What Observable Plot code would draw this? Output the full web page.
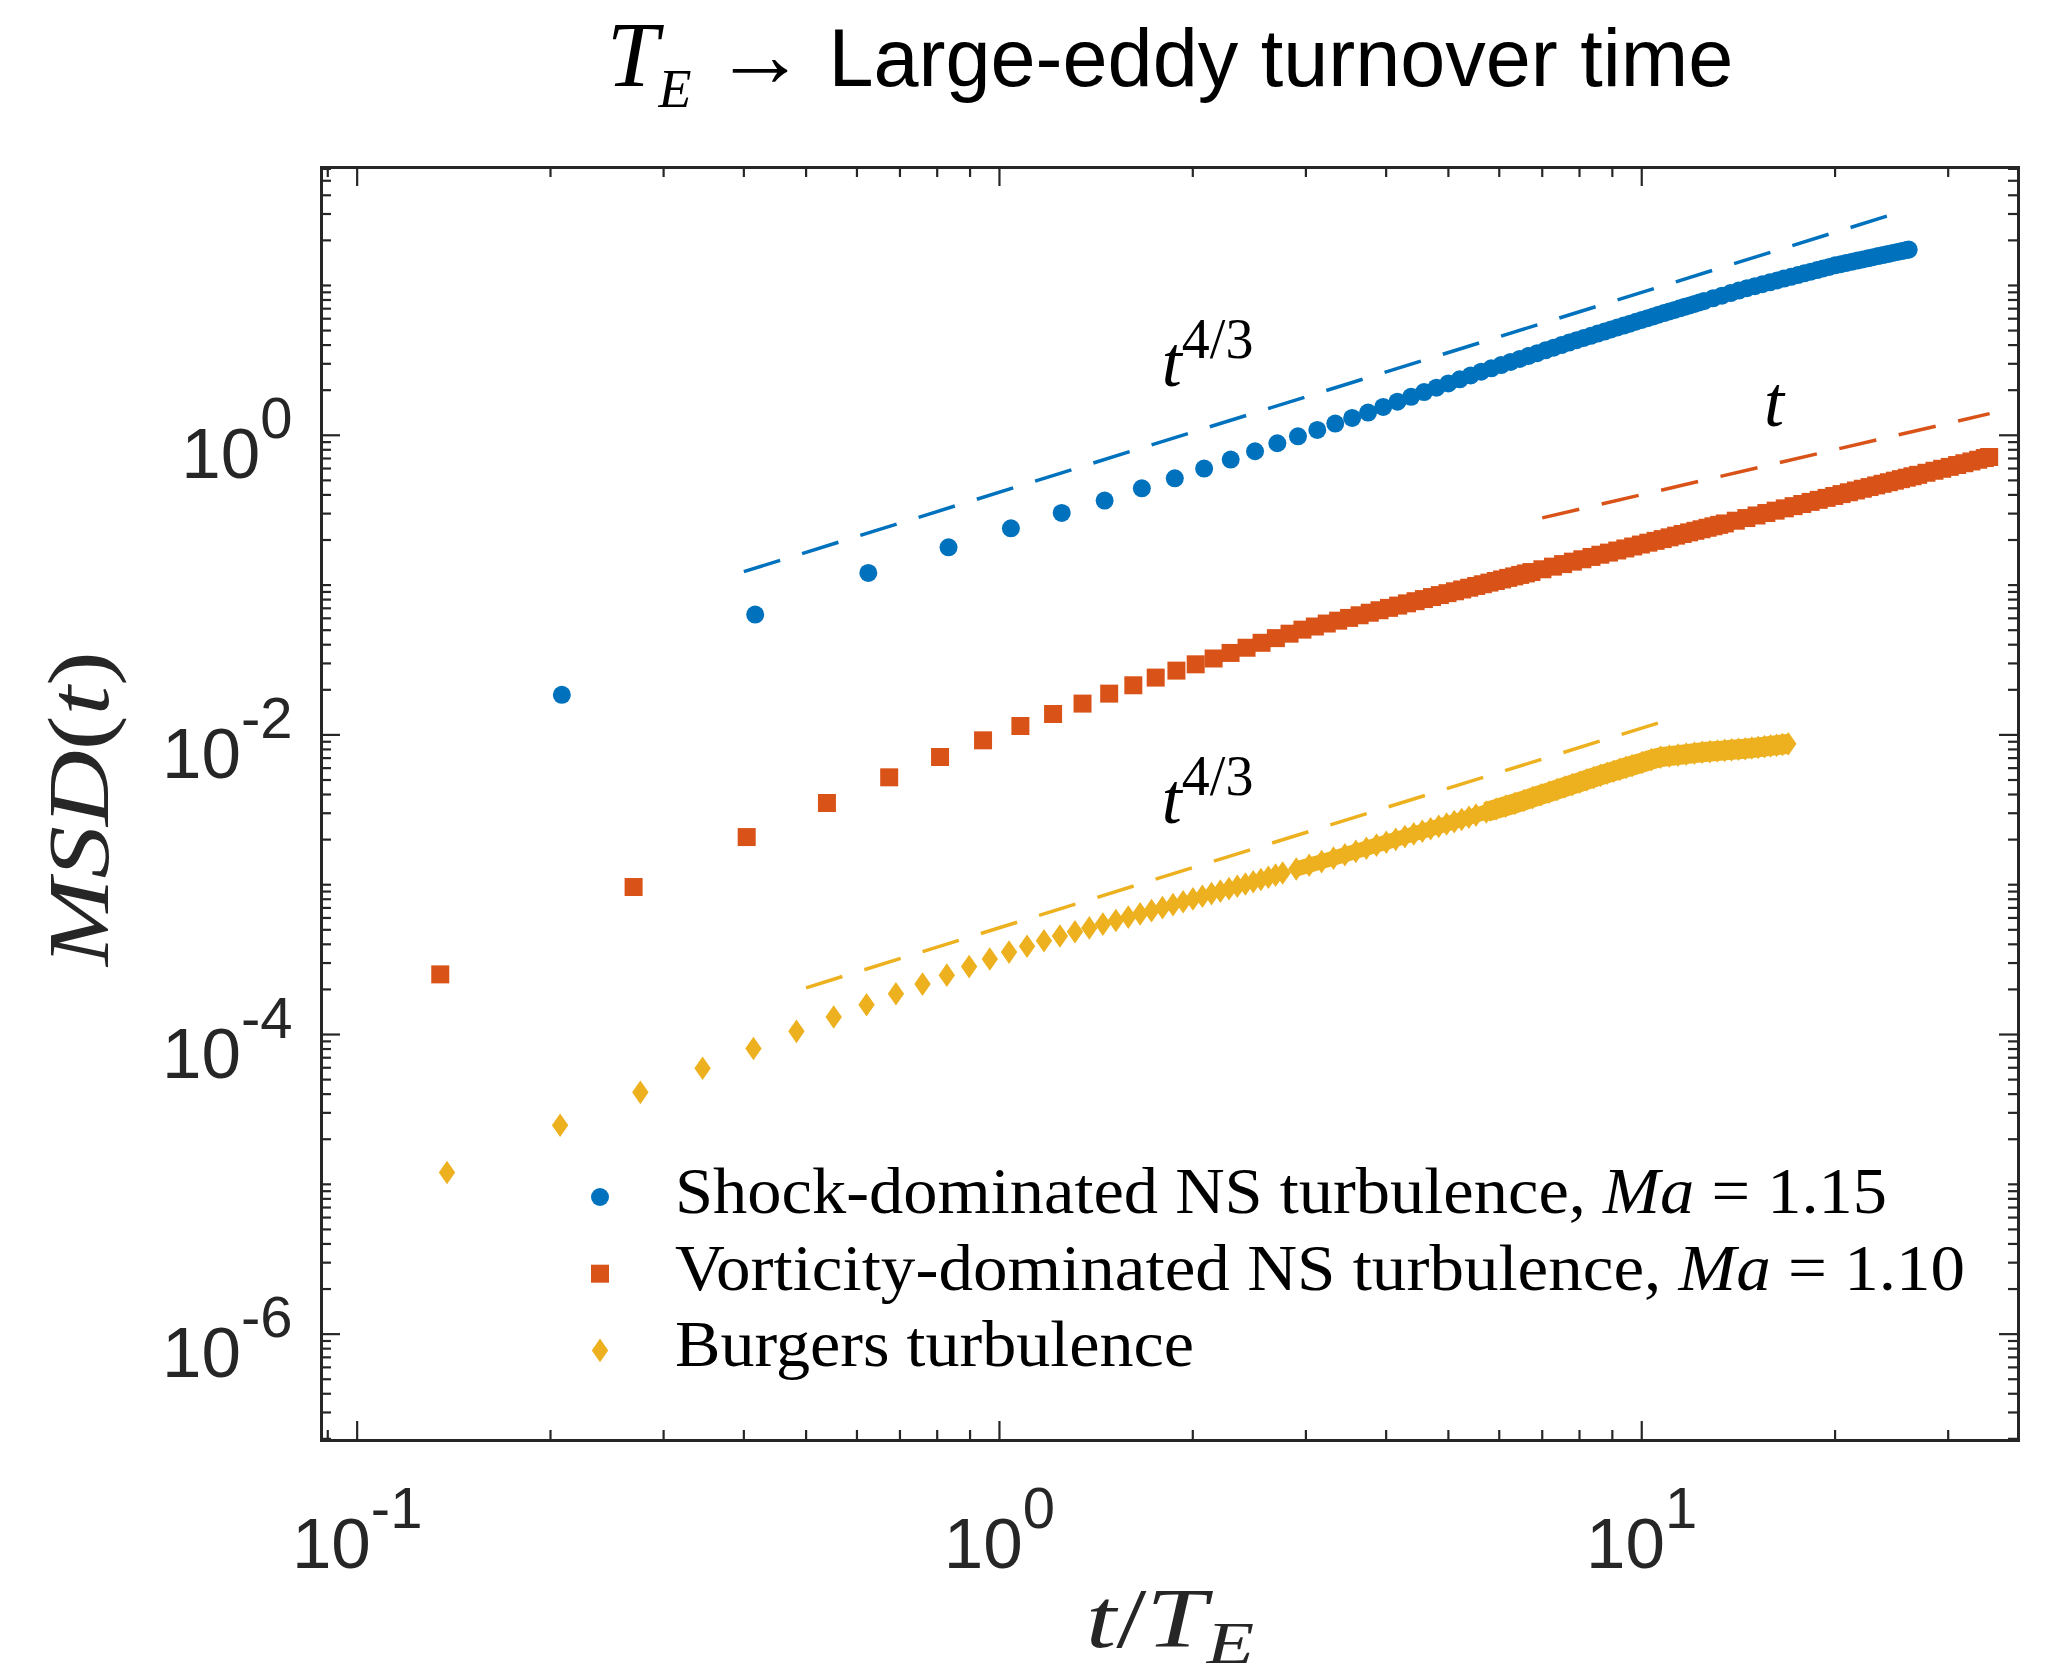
<!DOCTYPE html>
<html>
<head>
<meta charset="utf-8">
<script src="https://cdn.jsdelivr.net/npm/d3@7"></script>
<script src="https://cdn.jsdelivr.net/npm/@observablehq/plot@0.6"></script>
<style>
  html, body { margin: 0; padding: 0; background: #fff; }
  svg text { white-space: pre; }
</style>
</head>
<body>
<div id="chart"></div>
<script>
// ---------------------------------------------------------------------------
// Mean squared displacement vs. normalised time, three turbulence cases
// ---------------------------------------------------------------------------

// Shock-dominated NS turbulence, Ma = 1.15
const shockT = [0.2083, 0.4166, 0.6249, 0.8332, 1.042, 1.250, 1.458, 1.666, 1.875, 2.083,
  2.291, 2.500, 2.708, 2.916, 3.125, 3.333, 3.541, 3.749, 3.958,
  4.166, 4.374, 4.583, 4.791, 4.999, 5.208, 5.416, 5.624, 5.832, 6.041,
  6.249, 6.457, 6.666, 6.874, 7.082, 7.291, 7.499, 7.707, 7.915, 8.124,
  8.332, 8.540, 8.749, 8.957, 9.165, 9.374, 9.582, 9.790, 9.998, 10.21,
  10.42, 10.62, 10.83, 11.04, 11.25, 11.46, 11.66, 11.87, 12.08, 12.29, 12.50,
  12.91, 13.33, 13.75, 14.16, 14.58, 15.00, 15.41, 15.83, 16.25, 16.66,
  17.08, 17.50, 17.91, 18.33, 18.75, 19.16, 19.58, 20.00, 20.41, 20.83,
  21.25, 21.66, 22.08, 22.50, 22.91, 23.33, 23.75, 24.16, 24.58, 25.00,
  25.41, 25.83, 26.04];
const shockMSD = [0.0185, 0.0636, 0.1205, 0.1788, 0.2394, 0.3029, 0.3664, 0.4428, 0.5164, 0.5996,
  0.6885, 0.7823, 0.8846, 0.985, 1.085, 1.197, 1.305, 1.417, 1.545,
  1.677, 1.807, 1.942, 2.078, 2.219, 2.363, 2.509, 2.658, 2.798, 2.940,
  3.086, 3.234, 3.383, 3.535, 3.688, 3.845, 4.002, 4.159, 4.310, 4.462,
  4.615, 4.771, 4.927, 5.084, 5.243, 5.402, 5.562, 5.726, 5.888, 6.053,
  6.217, 6.378, 6.542, 6.706, 6.868, 7.033, 7.198, 7.364, 7.529, 7.699, 7.867,
  8.204, 8.550, 8.896, 9.240, 9.585, 9.893, 10.19, 10.50, 10.81, 11.12,
  11.43, 11.74, 12.05, 12.37, 12.68, 12.99, 13.30, 13.62, 13.88, 14.14,
  14.41, 14.66, 14.93, 15.19, 15.44, 15.70, 15.96, 16.21, 16.47, 16.73,
  16.98, 17.24, 17.37];

// Vorticity-dominated NS turbulence, Ma = 1.10
const vortT = [0.1347, 0.2694, 0.4041, 0.5388, 0.6735, 0.8082, 0.9429, 1.078, 1.212, 1.347,
  1.482, 1.616, 1.751, 1.886, 2.021,
  2.155, 2.290, 2.425, 2.559, 2.694, 2.829, 2.963, 3.098, 3.233, 3.368,
  3.502, 3.637, 3.772, 3.906, 4.041, 4.176, 4.310, 4.445, 4.580, 4.715,
  4.849, 4.984, 5.119, 5.253, 5.388, 5.523, 5.657, 5.792, 5.927, 6.062,
  6.196, 6.331, 6.466, 6.600, 6.735,
  7.004, 7.274, 7.543, 7.813, 8.082, 8.351, 8.621, 8.890, 9.160, 9.429,
  9.698, 9.968, 10.24, 10.51, 10.78, 11.05, 11.31, 11.58, 11.85, 12.12,
  12.39, 12.66, 12.93, 13.20, 13.47,
  14.01, 14.55, 15.09, 15.63, 16.16, 16.70, 17.24, 17.78, 18.32, 18.86,
  19.40, 19.94, 20.47, 21.01, 21.55, 22.09, 22.63, 23.17, 23.71, 24.25,
  24.78, 25.32, 25.86, 26.40, 26.94,
  27.75, 28.56, 29.36, 30.17, 30.98, 31.79, 32.60, 33.41, 34.21, 34.75];
const vortMSD = [2.52e-4, 9.65e-4, 2.08e-3, 3.51e-3, 5.21e-3, 7.12e-3, 9.20e-3, 0.01147, 0.01379, 0.01618,
  0.01886, 0.02144, 0.02413, 0.02686, 0.02959,
  0.03236, 0.03525, 0.03818, 0.04119, 0.04426, 0.04739, 0.05042, 0.05290, 0.05539, 0.05788,
  0.06038, 0.06289, 0.0654, 0.06793, 0.07046, 0.07299, 0.07553, 0.07808, 0.08064, 0.0832,
  0.08576, 0.08833, 0.0909, 0.09348, 0.09607, 0.09866, 0.1013, 0.1039, 0.1065, 0.1091,
  0.1117, 0.1143, 0.1169, 0.1196, 0.1222,
  0.1275, 0.1328, 0.1381, 0.1434, 0.1487, 0.1541, 0.1595, 0.1648, 0.1702, 0.1756,
  0.1810, 0.1865, 0.1919, 0.1974, 0.2028, 0.2083, 0.2138, 0.2193, 0.2248, 0.2303,
  0.2358, 0.2413, 0.2468, 0.2524, 0.2579,
  0.2690, 0.2802, 0.2915, 0.3027, 0.3140, 0.3252, 0.3365, 0.3479, 0.3592, 0.3707,
  0.3821, 0.3935, 0.4050, 0.4165, 0.4280, 0.4396, 0.4512, 0.4628, 0.4744, 0.4860,
  0.4977, 0.5093, 0.5210, 0.5327, 0.5444,
  0.5621, 0.5797, 0.5974, 0.6152, 0.6330, 0.6508, 0.6687, 0.6866, 0.7045, 0.7165];

// Burgers turbulence
const burgT = [0.138, 0.207, 0.276, 0.345, 0.414, 0.483, 0.552, 0.621, 0.690, 0.759,
  0.828, 0.897, 0.966, 1.035, 1.104, 1.173, 1.242,
  1.311, 1.380, 1.449, 1.518, 1.587, 1.656, 1.725, 1.794, 1.863, 1.932,
  2.001, 2.070, 2.139, 2.208, 2.277, 2.346, 2.415, 2.484, 2.553, 2.622, 2.691, 2.760,
  2.898, 3.036, 3.174, 3.312, 3.450, 3.588, 3.726, 3.864, 4.002, 4.140,
  4.278, 4.416, 4.554, 4.692, 4.830, 4.968, 5.106, 5.244, 5.382, 5.520,
  5.727, 5.934, 6.141, 6.348, 6.555, 6.762, 6.969, 7.176, 7.383, 7.590,
  7.797, 8.004, 8.211, 8.418, 8.625, 8.832, 9.039, 9.246, 9.453, 9.660,
  10.01, 10.35, 10.70, 11.04, 11.39, 11.73, 12.08, 12.42, 12.77, 13.11,
  13.46, 13.80, 14.15, 14.49, 14.84, 15.18, 15.53, 15.87, 16.22, 16.56, 16.91];
const burgMSD = [1.20e-5, 2.48e-5, 4.11e-5, 5.96e-5, 8.06e-5, 1.05e-4, 1.31e-4, 1.58e-4, 1.87e-4, 2.17e-4,
  2.49e-4, 2.84e-4, 3.19e-4, 3.55e-4, 3.88e-4, 4.23e-4, 4.55e-4,
  4.85e-4, 5.15e-4, 5.46e-4, 5.77e-4, 6.08e-4, 6.39e-4, 6.71e-4, 7.03e-4, 7.36e-4, 7.70e-4,
  8.04e-4, 8.38e-4, 8.72e-4, 9.06e-4, 9.41e-4, 9.76e-4, 1.011e-3, 1.047e-3, 1.084e-3, 1.121e-3, 1.159e-3, 1.196e-3,
  1.272e-3, 1.349e-3, 1.426e-3, 1.505e-3, 1.586e-3, 1.668e-3, 1.752e-3, 1.837e-3, 1.922e-3, 2.008e-3,
  2.095e-3, 2.183e-3, 2.272e-3, 2.362e-3, 2.452e-3, 2.543e-3, 2.635e-3, 2.727e-3, 2.821e-3, 2.915e-3,
  3.057e-3, 3.201e-3, 3.346e-3, 3.493e-3, 3.652e-3, 3.815e-3, 3.981e-3, 4.147e-3, 4.316e-3, 4.487e-3,
  4.660e-3, 4.834e-3, 5.011e-3, 5.189e-3, 5.369e-3, 5.546e-3, 5.718e-3, 5.891e-3, 6.066e-3, 6.241e-3,
  6.537e-3, 6.836e-3, 7.100e-3, 7.216e-3, 7.330e-3, 7.442e-3, 7.553e-3, 7.662e-3, 7.740e-3, 7.812e-3,
  7.882e-3, 7.951e-3, 8.019e-3, 8.086e-3, 8.169e-3, 8.262e-3, 8.354e-3, 8.445e-3, 8.536e-3, 8.625e-3, 8.713e-3];

// Power-law guide lines (end points): t^{4/3}, t, t^{4/3}
const shockGuideT = [0.4, 25];
const shockGuideMSD = [0.1229, 30.5];
const vortGuideT = [7.0, 34.8];
const vortGuideMSD = [0.281, 1.395];
const burgGuideT = [0.5, 11];
const burgGuideMSD = [2.05e-4, 0.0126];

// Guide-line annotations
const noteKey = ["t43", "t1", "t43"];
const noteT = [1.79, 15.5, 1.79];
const noteMSD = [2.12, 1.148, 2.57e-3];

// Axes
const xDomain = [0.0880, 38.6];
const yDomain = [1.95e-7, 61.3];
const xMajor = [0.1, 1, 10];
const yMajor = [1e-6, 1e-4, 1e-2, 1];

// Legend
const legendNames = ["Shock-dominated NS turbulence, ", "Vorticity-dominated NS turbulence, ", "Burgers turbulence"];
const legendMach = ["1.15", "1.10", null];

// ---------------------------------------------------------------------------
const BLUE = "#0072BD", ORANGE = "#D95319", YELLOW = "#EDB120", AXIS = "#262626";
const SERIF = "'Liberation Serif', 'Times New Roman', serif";
const SANS = "'Liberation Sans', Arial, Helvetica, sans-serif";

const W = 2049, H = 1674;
const M = {top: 167, right: 31, bottom: 234, left: 321};
const FW = W - M.left - M.right, FH = H - M.top - M.bottom;
const MAJOR = 19, MINOR = 10;

const zip = (ts, ys) => ts.map((t, i) => ({t, msd: ys[i]}));
const shock = zip(shockT, shockMSD);
const vort = zip(vortT, vortMSD);
const burg = zip(burgT, burgMSD);
const shockGuide = zip(shockGuideT, shockGuideMSD);
const vortGuide = zip(vortGuideT, vortGuideMSD);
const burgGuide = zip(burgGuideT, burgGuideMSD);
const notes = noteKey.map((k, i) => ({k, t: noteT[i], msd: noteMSD[i]}));

// minor log ticks (2..9 of every decade, plus unlabelled decades)
const xMinor = [];
for (let e = -2; e <= 1; e++) for (let k = 2; k <= 9; k++) {
  const v = k * Math.pow(10, e);
  if (v >= xDomain[0] && v <= xDomain[1]) xMinor.push(v);
}
const yMinor = [];
for (let e = -7; e <= 1; e++) for (let k = 1; k <= 9; k++) {
  if (k === 1 && e % 2 === 0 && e >= -6 && e <= 0) continue;
  const v = k * Math.pow(10, e);
  if (v >= yDomain[0] && v <= yDomain[1]) yMinor.push(v);
}

// marker shapes
const squareSym = {draw(ctx, size) {
  const s = Math.sqrt(size / Math.PI);
  ctx.moveTo(-s, -s); ctx.lineTo(s, -s); ctx.lineTo(s, s); ctx.lineTo(-s, s); ctx.closePath();
}};
const diamondSym = {draw(ctx, size) {
  const s = Math.sqrt(size / Math.PI), h = s * 1.44;
  ctx.moveTo(0, -h); ctx.lineTo(s, 0); ctx.lineTo(0, h); ctx.lineTo(-s, 0); ctx.closePath();
}};
const R_CIRCLE = 9, R_SQUARE = 9, R_DIAMOND = 8.2;

const tickStyle = {stroke: AXIS, strokeWidth: 2.2};
const dash = {strokeWidth: 3.5, strokeDasharray: "38,23", strokeLinecap: "butt"};

const chart = Plot.plot({
  width: W, height: H,
  marginTop: M.top, marginRight: M.right, marginBottom: M.bottom, marginLeft: M.left,
  x: {type: "log", domain: xDomain, axis: null},
  y: {type: "log", domain: yDomain, axis: null},
  style: {background: "#fff", fontFamily: SANS, overflow: "visible"},
  marks: [
    // ticks, pointing inward on all four sides
    Plot.ruleX(xMinor, {x: d => d, insetTop: FH - MINOR, ...tickStyle}),
    Plot.ruleX(xMinor, {x: d => d, insetBottom: FH - MINOR, ...tickStyle}),
    Plot.ruleX(xMajor, {x: d => d, insetTop: FH - MAJOR, ...tickStyle}),
    Plot.ruleX(xMajor, {x: d => d, insetBottom: FH - MAJOR, ...tickStyle}),
    Plot.ruleY(yMinor, {y: d => d, insetRight: FW - MINOR, ...tickStyle}),
    Plot.ruleY(yMinor, {y: d => d, insetLeft: FW - MINOR, ...tickStyle}),
    Plot.ruleY(yMajor, {y: d => d, insetRight: FW - MAJOR, ...tickStyle}),
    Plot.ruleY(yMajor, {y: d => d, insetLeft: FW - MAJOR, ...tickStyle}),

    // power-law guides
    Plot.line(shockGuide, {x: "t", y: "msd", stroke: BLUE, ...dash}),
    Plot.line(vortGuide, {x: "t", y: "msd", stroke: ORANGE, ...dash}),
    Plot.line(burgGuide, {x: "t", y: "msd", stroke: YELLOW, ...dash}),

    // densely sampled tails: solid core under the overlapping markers
    Plot.line(vort.filter(d => d.t >= 6.7), {x: "t", y: "msd", stroke: ORANGE, strokeWidth: 16, strokeLinecap: "butt"}),
    Plot.line(burg.filter(d => d.t >= 2.85), {x: "t", y: "msd", stroke: YELLOW, strokeWidth: 15, strokeLinecap: "butt"}),
    Plot.line(burg.filter(d => d.t >= 5.7), {x: "t", y: "msd", stroke: YELLOW, strokeWidth: 20, strokeLinecap: "butt"}),

    // data
    Plot.dot(shock, {x: "t", y: "msd", symbol: "circle", r: R_CIRCLE, fill: BLUE}),
    Plot.dot(vort, {x: "t", y: "msd", symbol: squareSym, r: R_SQUARE, fill: ORANGE}),
    Plot.dot(burg, {x: "t", y: "msd", symbol: diamondSym, r: R_DIAMOND, fill: YELLOW}),

    Plot.frame({stroke: AXIS, strokeWidth: 3}),

    // tick labels
    Plot.text(xMajor, {x: d => d, frameAnchor: "bottom", dy: 127, lineAnchor: "bottom", textAnchor: "middle",
      text: d => "e:" + Math.round(Math.log10(d)), fontSize: 71, fontFamily: SANS, fill: AXIS}),
    Plot.text(yMajor, {y: d => d, frameAnchor: "left", dx: -29, dy: 43, lineAnchor: "bottom", textAnchor: "end",
      text: d => "e:" + Math.round(Math.log10(d)), fontSize: 71, fontFamily: SANS, fill: AXIS}),

    // guide annotations
    Plot.text(notes, {x: "t", y: "msd", text: "k", lineAnchor: "bottom", textAnchor: "start",
      fontSize: 72, fontFamily: SERIF, fill: "#000"}),

    // title and axis labels
    Plot.text(["TITLE"], {frameAnchor: "top", dy: -82, lineAnchor: "bottom", textAnchor: "middle",
      fontSize: 81, fontFamily: SANS, fill: "#000"}),
    Plot.text(["XLAB"], {frameAnchor: "bottom", dy: 206, lineAnchor: "bottom", textAnchor: "middle",
      fontSize: 84, fontFamily: SERIF, fill: AXIS}),
    Plot.text(["YLAB"], {frameAnchor: "left", dx: -214, dy: 4.5, rotate: -90, lineAnchor: "bottom", textAnchor: "middle",
      fontSize: 86, fontFamily: SERIF, fill: AXIS})
  ]
});

// ---- mixed-style text (italic math, sub/superscripts) ----
const NS = "http://www.w3.org/2000/svg";
function setRich(el, parts, length) {
  el.textContent = "";
  let cur = 0;
  for (const p of parts) {
    const ts = document.createElementNS(NS, "tspan");
    const s = p.shift || 0;
    if (s !== cur) { ts.setAttribute("dy", s - cur); cur = s; }
    if (p.size) ts.setAttribute("font-size", p.size);
    ts.setAttribute("font-style", p.italic ? "italic" : "normal");
    if (p.family) ts.setAttribute("font-family", p.family);
    ts.textContent = p.t;
    el.appendChild(ts);
  }
  if (length) {
    el.setAttribute("textLength", length);
    el.setAttribute("lengthAdjust", "spacingAndGlyphs");
  }
}
function richFor(key) {
  if (key.startsWith("e:")) return {parts: [{t: "10"}, {t: key.slice(2), size: 58, shift: -40}]};
  switch (key) {
    case "t43": return {parts: [{t: "t", italic: true}, {t: "4/3", size: 56, shift: -28}]};
    case "t1": return {parts: [{t: "t", italic: true}]};
    case "TITLE": return {parts: [
      {t: "T", italic: true, family: SERIF, size: 93},
      {t: "E", italic: true, family: SERIF, size: 54, shift: 21},
      {t: " ", family: SANS, size: 81},
      {t: "\u2192", family: SANS, size: 92},
      {t: " Large-eddy turnover time", family: SANS, size: 81}]};
    case "XLAB": return {parts: [
      {t: "t", italic: true}, {t: "/"}, {t: "T", italic: true},
      {t: "E", italic: true, size: 60, shift: 16}], length: 168};
    case "YLAB": return {parts: [
      {t: "MSD", italic: true}, {t: "("}, {t: "t", italic: true}, {t: ")"}], length: 315};
  }
  return null;
}
chart.querySelectorAll("text").forEach(el => {
  const spec = richFor(el.textContent);
  if (spec) setRich(el, spec.parts, spec.length);
});

// ---- legend (inside the axes, no box) ----
const legendColor = [BLUE, ORANGE, YELLOW];
const legendSym = [d3.symbolCircle, squareSym, diamondSym];
const legendR = [R_CIRCLE, R_SQUARE, R_DIAMOND];
const legendLen = [1212, 1290, 519];
const lg = d3.select(chart).append("g").attr("aria-label", "legend");
legendNames.forEach((name, i) => {
  const base = 1213 + i * 76.7;
  lg.append("path")
    .attr("transform", `translate(600,${base - 16})`)
    .attr("d", d3.symbol(legendSym[i], Math.PI * legendR[i] * legendR[i])())
    .attr("fill", legendColor[i]);
  const txt = lg.append("text")
    .attr("x", 675).attr("y", base)
    .attr("text-anchor", "start")
    .attr("font-family", SERIF).attr("font-size", 66).attr("fill", "#000").node();
  const parts = [{t: name}];
  if (legendMach[i]) parts.push({t: "Ma", italic: true}, {t: " = " + legendMach[i]});
  setRich(txt, parts, legendLen[i]);
});

document.getElementById("chart").appendChild(chart);
</script>
</body>
</html>
